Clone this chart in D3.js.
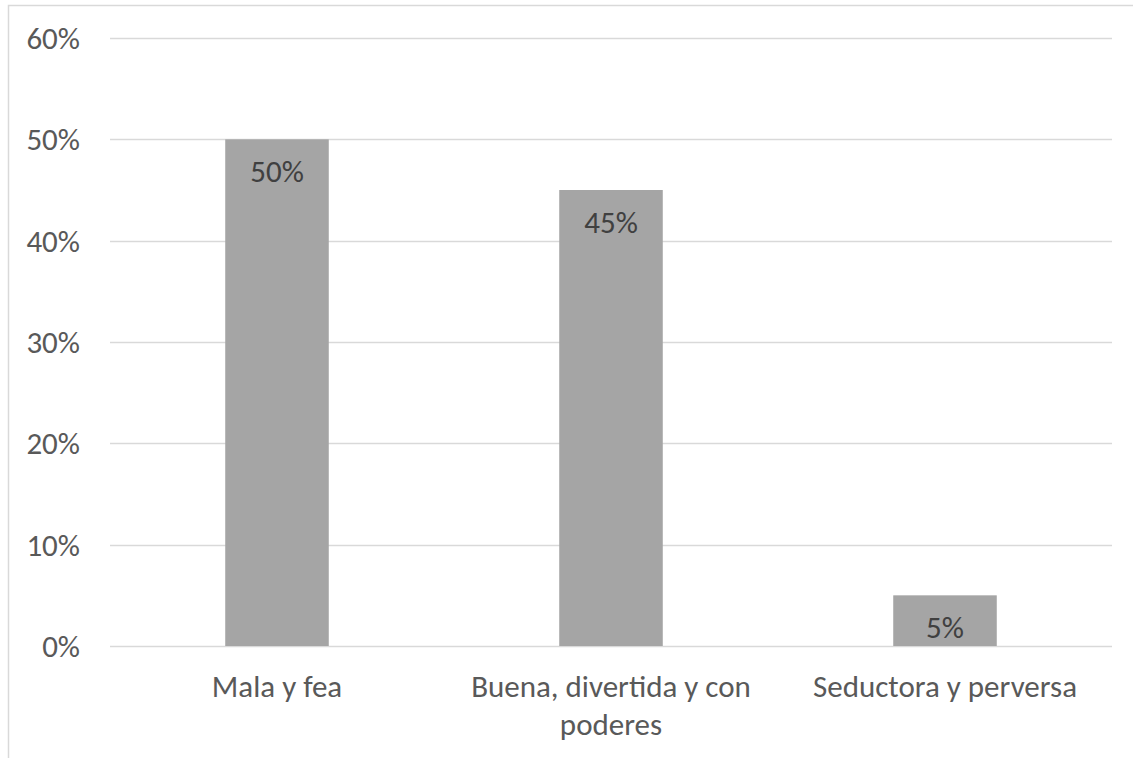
<!DOCTYPE html>
<html>
<head>
<meta charset="utf-8">
<script src="https://cdn.jsdelivr.net/npm/d3@7"></script>
<style>
  body { margin: 0; background: #fff; }
  svg text { font-family: Carlito, Lato, "Open Sans", sans-serif; }
</style>
</head>
<body>
<div id="chart"></div>
<script>
var categories = ["Mala y fea", "Buena, divertida y con poderes", "Seductora y perversa"];
var values = [0.50, 0.45, 0.05];
var yTicks = [0, 0.1, 0.2, 0.3, 0.4, 0.5, 0.6];

var width = 1133, height = 758;
var fontSize = 31;

var svg = d3.select("#chart").append("svg")
  .attr("width", width)
  .attr("height", height);

// chart area border (cut by the page edge on right and bottom)
svg.append("path")
  .attr("d", "M8.5," + height + " V5.5 H" + width)
  .attr("fill", "none")
  .attr("stroke", "#d9d9d9")
  .attr("stroke-width", 1.5);

var x = d3.scaleBand()
  .domain(categories)
  .range([110, 1112])
  .paddingInner(0.69)
  .paddingOuter(0.345);

var y = d3.scaleLinear()
  .domain([0, 0.6])
  .range([646, 38]);

// gridlines
svg.append("g").selectAll("line")
  .data(yTicks)
  .enter().append("line")
  .attr("x1", 110)
  .attr("x2", 1112)
  .attr("y1", function(d) { return Math.round(y(d)) + 0.5; })
  .attr("y2", function(d) { return Math.round(y(d)) + 0.5; })
  .attr("stroke", "#d9d9d9")
  .attr("stroke-width", 1.5);

// y tick labels
svg.append("g").selectAll("text")
  .data(yTicks)
  .enter().append("text")
  .attr("x", 80)
  .attr("y", function(d) { return y(d) + 11; })
  .attr("text-anchor", "end")
  .attr("fill", "#595959")
  .style("font-size", fontSize + "px")
  .text(d3.format(".0%"));

// bars
svg.append("g").selectAll("rect")
  .data(values)
  .enter().append("rect")
  .attr("x", function(d, i) { return x(categories[i]); })
  .attr("y", function(d) { return y(d); })
  .attr("width", x.bandwidth())
  .attr("height", function(d) { return y(0) - y(d); })
  .attr("fill", "#a5a5a5");

// value labels inside top of bars
svg.append("g").selectAll("text")
  .data(values)
  .enter().append("text")
  .attr("x", function(d, i) { return x(categories[i]) + x.bandwidth() / 2; })
  .attr("y", function(d) { return y(d) + 43; })
  .attr("text-anchor", "middle")
  .attr("fill", "#404040")
  .style("font-size", fontSize + "px")
  .text(d3.format(".0%"));

// category labels, wrapped as in the original
var catLines = [["Mala y fea"], ["Buena, divertida y con", "poderes"], ["Seductora y perversa"]];
var cat = svg.append("g").selectAll("text")
  .data(categories)
  .enter().append("text")
  .attr("x", function(d) { return x(d) + x.bandwidth() / 2; })
  .attr("y", 697)
  .attr("text-anchor", "middle")
  .attr("fill", "#595959")
  .style("font-size", fontSize + "px");

cat.selectAll("tspan")
  .data(function(d, i) { return catLines[i]; })
  .enter().append("tspan")
  .attr("x", function() { return d3.select(this.parentNode).attr("x"); })
  .attr("dy", function(d, i) { return i === 0 ? 0 : 38; })
  .text(function(d) { return d; });
</script>
</body>
</html>
